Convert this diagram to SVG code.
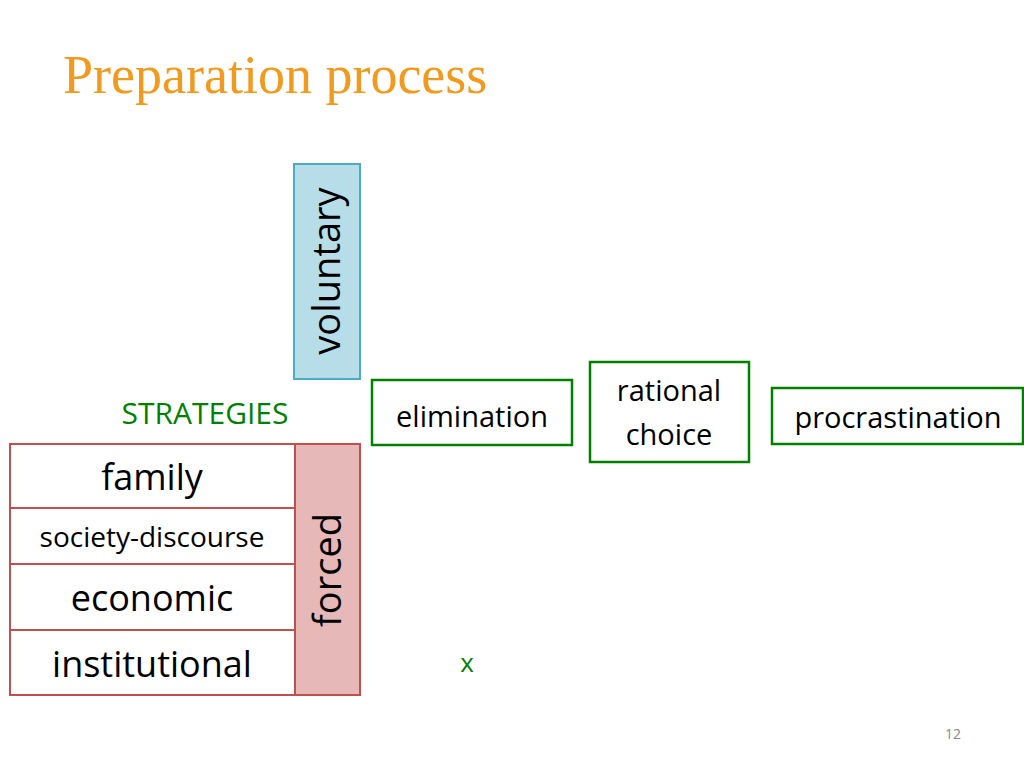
<svg xmlns="http://www.w3.org/2000/svg" width="1024" height="768" viewBox="0 0 1024 768">
<style>
text{font-family:"Open Sans","Liberation Sans",sans-serif}
.r{fill:#fff;stroke:#c0504d;stroke-width:2}
.g{fill:#fff;stroke:#008000;stroke-width:2.5}
.k{fill:#000;text-anchor:middle}
.gt{fill:#008000;text-anchor:middle}
</style>
<rect width="1024" height="768" fill="#fff"/>
<text x="63" y="93" style="font-family:'Liberation Serif',serif" font-size="54" fill="#f29a1e">Preparation process</text>
<g id="voluntary"><rect x="294" y="164" width="66" height="215" fill="#b7dde8" stroke="#4bacc6" stroke-width="2"/>
<text class="k" font-size="38" transform="translate(340,271) rotate(-90)">voluntary</text></g>
<g id="forced"><rect x="295" y="444" width="65" height="251" fill="#e6b9b8" stroke="#c0504d" stroke-width="2"/>
<text class="k" font-size="38" transform="translate(341,570) rotate(-90)">forced</text></g>
<g id="family"><rect class="r" x="10" y="444" width="285" height="64"/><text class="k" x="152" y="490" font-size="36">family</text></g>
<g id="society"><rect class="r" x="10" y="508" width="285" height="56"/><text class="k" x="152" y="547" font-size="28">society-discourse</text></g>
<g id="economic"><rect class="r" x="10" y="564" width="285" height="66"/><text class="k" x="152" y="611" font-size="36">economic</text></g>
<g id="institutional"><rect class="r" x="10" y="630" width="285" height="65"/><text class="k" x="152" y="677" font-size="36">institutional</text></g>
<g id="strategies"><text class="gt" x="205" y="424" font-size="30">STRATEGIES</text></g>
<g id="elimination"><rect class="g" x="372" y="380" width="200" height="65"/><text class="k" x="472" y="427" font-size="29">elimination</text></g>
<g id="rational"><rect class="g" x="590" y="362" width="159" height="100"/><text class="k" x="669" y="401" font-size="29">rational</text><text class="k" x="669" y="445" font-size="29">choice</text></g>
<g id="procrastination"><rect class="g" x="772" y="388" width="251" height="56"/><text class="k" x="898" y="428" font-size="29">procrastination</text></g>
<g id="connectors"></g>
<text class="gt" x="467" y="672" font-size="26">x</text>
<text x="953" y="739" font-size="14" fill="#888" text-anchor="middle">12</text>
</svg>
